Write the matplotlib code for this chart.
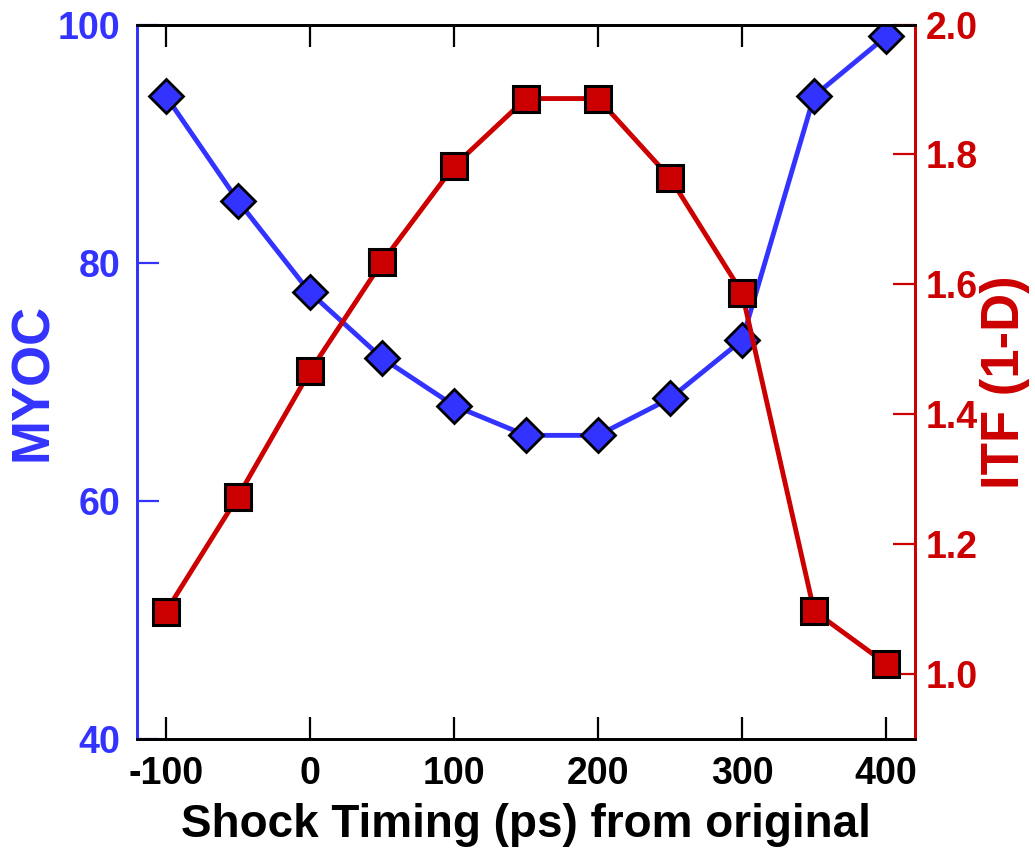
import matplotlib
matplotlib.use("Agg")
import matplotlib.pyplot as plt

plt.rcParams['font.family'] = ['Liberation Sans', 'DejaVu Sans']
plt.rcParams['font.weight'] = 'bold'

shock_timing = [-100, -50, 0, 50, 100, 150, 200, 250, 300, 350, 400]
myoc = [94.0, 85.2, 77.5, 72.0, 68.0, 65.5, 65.5, 68.6, 73.5, 94.0, 99.0]
itf = [1.096, 1.273, 1.466, 1.634, 1.782, 1.886, 1.886, 1.764, 1.587, 1.097, 1.016]

x_ticks = [-100, 0, 100, 200, 300, 400]
left_ticks = [40, 60, 80, 100]
right_ticks = [1.0, 1.2, 1.4, 1.6, 1.8, 2.0]

BLUE = '#3333FF'
RED = '#CC0000'

fig = plt.figure(figsize=(10.35, 8.48), dpi=100)
ax = fig.add_axes([0.1324, 0.1285, 0.884 - 0.1324, 0.9711 - 0.1285])
ax2 = ax.twinx()

ax.plot(shock_timing, myoc, color=BLUE, lw=3.5, marker='D', ms=17,
        mfc=BLUE, mec='black', mew=2, zorder=3)
ax2.plot(shock_timing, itf, color=RED, lw=3.5, marker='s', ms=18.5,
         mfc=RED, mec='black', mew=2.2, zorder=3)

ax.set_xlim(-120, 420)
ax.set_ylim(40, 100)
ax2.set_ylim(0.9, 2.0)

ax.set_xticks(x_ticks)
ax.set_xticklabels([str(v) for v in x_ticks])
ax.set_yticks(left_ticks)
ax.set_yticklabels([str(v) for v in left_ticks])
ax2.set_yticks(right_ticks)
ax2.set_yticklabels([f"{v:.1f}" for v in right_ticks])

ax.tick_params(axis='x', direction='in', length=16, width=1.6, top=True,
               bottom=True, labelsize=27, pad=12, colors='black')
ax.tick_params(axis='y', direction='in', length=16, width=1.6,
               labelsize=27, pad=12, colors=BLUE)
ax2.tick_params(axis='y', direction='in', length=16, width=1.6,
                labelsize=27, pad=8, colors=RED)

for a in (ax, ax2):
    for s in ('top', 'bottom'):
        a.spines[s].set_color('black')
        a.spines[s].set_linewidth(2)
    a.spines['left'].set_color(BLUE)
    a.spines['left'].set_linewidth(2)
    a.spines['right'].set_color(RED)
    a.spines['right'].set_linewidth(2)

ax.set_xlabel('Shock Timing (ps) from original', fontsize=33,
              fontweight='bold', labelpad=8)
ax.set_ylabel('MYOC', fontsize=38, fontweight='bold', color=BLUE)
ax2.set_ylabel('ITF (1-D)', fontsize=38, fontweight='bold', color=RED)
ax.yaxis.label.set_va('center')
ax2.yaxis.label.set_va('center')
ax.yaxis.set_label_coords(-0.1337, 0.5)
ax2.yaxis.set_label_coords(1.1157, 0.5)

fig.savefig('out.png', dpi=100)
